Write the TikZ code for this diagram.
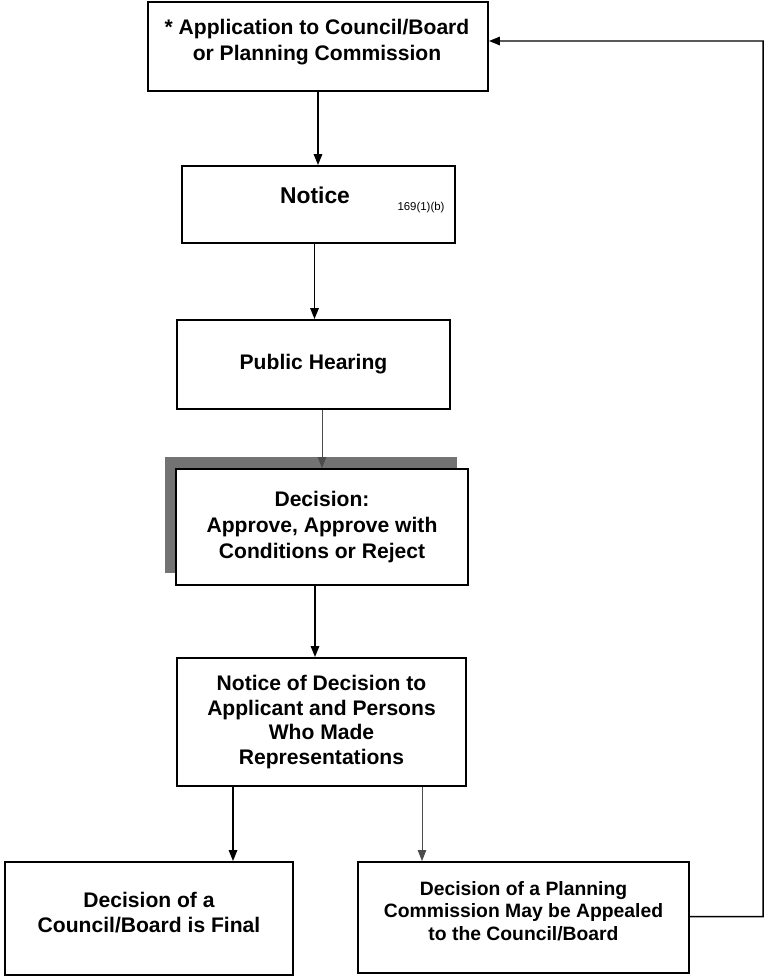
\documentclass[tikz,border=0pt]{standalone}
\usepackage{fontspec}
\setmainfont{Liberation Sans}
\usetikzlibrary{arrows.meta,shadows}
\tikzset{
	stepbox/.style={draw, line width=1.1pt, align=center, font=\bfseries\fontsize{12}{14.6}\selectfont, inner sep=2pt},
	arr/.style={line width=0.85pt, -{Triangle[length=0.22cm,width=0.17cm]}},
	thinarr/.style={line width=0.5pt, draw=black!70, -{Triangle[length=0.22cm,width=0.17cm]}}
}

\begin{document}
\begin{tikzpicture}
				\useasboundingbox (0,0) rectangle (15.34,-19.54);
				
				\node[stepbox, minimum width=6.8cm, minimum height=1.78cm] (app) at (6.36,-0.93) {};
				\node (apptext) at (6.34,-0.84) [align=center, font=\bfseries\fontsize{12}{14.6}\selectfont] {* Application to Council/Board\\or Planning Commission};
				\node[stepbox, minimum width=5.46cm, minimum height=1.54cm] (notice) at (6.37,-4.09) {};
				\node (noticetext) at (6.30,-3.90) [font=\bfseries\fontsize{13}{15}\selectfont] {Notice};
				\node[font=\fontsize{6.5}{8}\selectfont] (noticeref) at (8.42,-4.16) {169(1)(b)};
				\node[stepbox, minimum width=5.46cm, minimum height=1.78cm] (hearing) at (6.27,-7.29) {Public Hearing};
				\node[stepbox, minimum width=5.84cm, minimum height=2.32cm, fill=white,
					drop shadow={shadow xshift=-0.23cm, shadow yshift=0.25cm, fill=black!55, opacity=1}] (decision) at (6.44,-10.54) {Decision:\\Approve, Approve with\\Conditions or Reject};
				\node[stepbox, minimum width=5.78cm, minimum height=2.56cm, font=\bfseries\fontsize{12}{14.1}\selectfont] (nod) at (6.43,-14.44) {Notice of Decision to\\Applicant and Persons\\Who Made\\Representations};
				\node[stepbox, minimum width=5.76cm, minimum height=2.26cm] (final) at (2.98,-18.37) {};
				\node (finaltext) at (2.98,-18.25) [align=center, font=\bfseries\fontsize{12}{14.6}\selectfont] {Decision of a\\Council/Board is Final};
				\node[stepbox, minimum width=6.62cm, minimum height=2.22cm] (appeal) at (10.47,-18.35) {};
				\node (appealtext) at (10.47,-18.22) [align=center, font=\bfseries\fontsize{11}{12.8}\selectfont] {Decision of a Planning\\Commission May be Appealed\\to the Council/Board};
				
				\draw[arr] (app.south) -- (app.south |- notice.north);
				\draw[arr] ([xshift=-0.08cm]notice.south) -- ([xshift=-0.08cm]notice.south |- hearing.north);
				\draw[thinarr] (hearing.south -| decision.north) -- (decision.north);
				\draw[arr] ([xshift=-0.14cm]decision.south) -- ([xshift=-0.14cm]decision.south |- nod.north);
				\draw[arr] ([xshift=-1.77cm]nod.south) -- ([xshift=-1.77cm]nod.south |- final.north);
				\draw[thinarr] ([xshift=2.01cm]nod.south) -- ([xshift=2.01cm]nod.south |- appeal.north);
				\draw[arr] ([yshift=0.02cm]appeal.east) -| (15.26,-0.82) -- ([yshift=0.11cm]app.east);
			\end{tikzpicture}
\end{document}
